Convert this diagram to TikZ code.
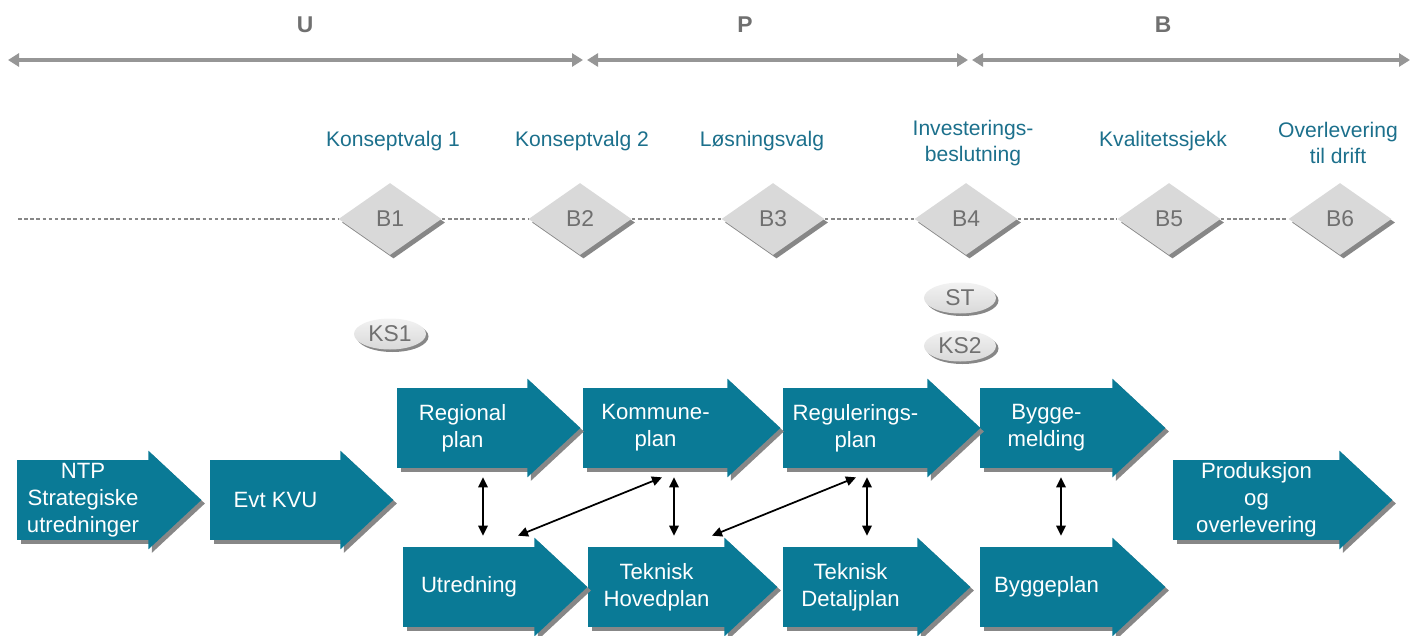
\documentclass[tikz,border=0pt]{standalone}
\usepackage{fontspec}
\setmainfont{Liberation Sans}
\usetikzlibrary{shapes.geometric, arrows.meta, positioning, calc, shadows}
\definecolor{flowTeal}{RGB}{10, 122, 150}
\definecolor{labelTeal}{RGB}{28, 112, 140}
\definecolor{gateGray}{RGB}{217, 217, 217}
\definecolor{shadowGray}{RGB}{135, 135, 135}
\definecolor{textGray}{RGB}{112, 112, 112}
\definecolor{phaseGray}{RGB}{150, 150, 150}

\begin{document}
\begin{tikzpicture}[
    flow/.style={
        rectangle,
        minimum height=1.6cm,
        inner sep=0pt,
        align=center,
        font=\fontsize{12.6}{15.3}\selectfont,
        text=white,
        fill=flowTeal,
        drop shadow={shadow xshift=0.07cm, shadow yshift=-0.07cm, fill=shadowGray, opacity=1}
    },
    head/.style={
        fill=flowTeal,
        drop shadow={shadow xshift=0.07cm, shadow yshift=-0.07cm, fill=shadowGray, opacity=1}
    },
    gate/.style={
        diamond,
        minimum width=2.06cm,
        minimum height=1.44cm,
        inner sep=0pt,
        font=\fontsize{13}{15}\selectfont,
        text=textGray,
        fill=gateGray,
        drop shadow={shadow xshift=0.07cm, shadow yshift=-0.07cm, fill=shadowGray, opacity=1}
    },
    review/.style={
        ellipse,
        minimum width=1.44cm,
        minimum height=0.62cm,
        inner sep=0pt,
        font=\fontsize{13}{15}\selectfont,
        text=textGray,
        top color=gray!10,
        bottom color=gray!30,
        drop shadow={shadow xshift=0.05cm, shadow yshift=-0.05cm, fill=shadowGray, opacity=1}
    },
    decision/.style={
        align=center,
        font=\fontsize{12}{14.7}\selectfont,
        text=labelTeal
    },
    phase/.style={
        font=\fontsize{13}{15}\selectfont\bfseries,
        text=textGray
    },
    span/.style={
        {Triangle[length=0.22cm, width=0.26cm]}-{Triangle[length=0.22cm, width=0.26cm]},
        line width=1.8pt,
        color=phaseGray
    },
    link/.style={
        {Triangle[length=0.2cm, width=0.19cm]}-{Triangle[length=0.2cm, width=0.19cm]},
        line width=1pt,
        color=black
    },
    timeline/.style={
        dash pattern=on 2pt off 1.5pt,
        line width=0.7pt,
        color=shadowGray
    }
]
\useasboundingbox (0,0) rectangle (28.38,-12.7);

% Phases
\node[phase] (pu) at (6.10,-0.50) {U};
\node[phase] (pp) at (14.90,-0.50) {P};
\node[phase] (pb) at (23.26,-0.50) {B};
\coordinate (t0) at (0.16,-1.2);
\coordinate (t1) at (11.70,-1.2);
\coordinate (t2) at (19.40,-1.2);
\coordinate (t3) at (28.20,-1.2);
\draw[span, shorten >=0.04cm] (t0) -- (t1);
\draw[span, shorten <=0.04cm, shorten >=0.04cm] (t1) -- (t2);
\draw[span, shorten <=0.04cm] (t2) -- (t3);

% Decision gates
\node[gate] (b1) at (7.80,-4.38) {B1};
\node[gate] (b2) at (11.60,-4.38) {B2};
\node[gate] (b3) at (15.46,-4.38) {B3};
\node[gate] (b4) at (19.32,-4.38) {B4};
\node[gate] (b5) at (23.38,-4.38) {B5};
\node[gate] (b6) at (26.80,-4.38) {B6};
\coordinate (tstart) at (0.36,-4.38);
\draw[timeline] (tstart) -- (b1) -- (b2) -- (b3) -- (b4) -- (b5) -- (b6);

\node[decision] (d1) at (7.86,-2.82) {Konseptvalg 1};
\node[decision] (d2) at (11.64,-2.82) {Konseptvalg 2};
\node[decision] (d3) at (15.24,-2.82) {Løsningsvalg};
\node[decision] (d4) at (19.46,-2.86) {Investerings-\\beslutning};
\node[decision] (d5) at (23.26,-2.82) {Kvalitetssjekk};
\node[decision] (d6) at (26.76,-2.86) {Overlevering\\til drift};

% Quality reviews
\node[review] (ks1) at (7.80,-6.68) {KS1};
\node[review] (st) at (19.20,-5.96) {ST};
\node[review] (ks2) at (19.20,-6.92) {KS2};

% Plan flow
\node[flow, minimum width=2.64cm] (ntp) at (1.66,-10.00) {NTP\\Strategiske\\utredninger};
\node[flow, minimum width=2.62cm] (kvu) at (5.51,-10.00) {Evt KVU};
\node[flow, minimum width=2.62cm] (reg) at (9.25,-8.56) {Regional\\plan};
\node[flow, minimum width=2.90cm] (kom) at (13.11,-8.56) {Kommune-\\plan};
\node[flow, minimum width=2.90cm] (regu) at (17.11,-8.56) {Regulerings-\\plan};
\node[flow, minimum width=2.66cm] (bmeld) at (20.93,-8.56) {Bygge-\\melding};
\node[flow, minimum width=2.64cm] (utr) at (9.38,-11.74) {Utredning};
\node[flow, minimum width=2.74cm] (hov) at (13.13,-11.74) {Teknisk\\Hovedplan};
\node[flow, minimum width=2.70cm] (det) at (17.01,-11.74) {Teknisk\\Detaljplan};
\node[flow, minimum width=2.66cm] (bplan) at (20.93,-11.74) {Byggeplan};
\node[flow, minimum width=3.34cm] (prod) at (25.13,-10.00) {Produksjon\\og\\overlevering};

\foreach \n in {ntp, kvu, reg, kom, regu, bmeld, utr, hov, det, bplan, prod}
    \fill[head] ($(\n.north east)+(-0.02,0.18)$) -- ($(\n.east)+(1.04,0)$)
        -- ($(\n.south east)+(-0.02,-0.18)$) -- cycle;

% Links
\draw[link] ($(reg.south)+(0.41,-0.18)$) -- ($(utr.north)+(0.28,0.22)$);
\draw[link] ($(kom.south)+(0.37,-0.18)$) -- ($(hov.north)+(0.35,0.22)$);
\draw[link] ($(regu.south)+(0.23,-0.18)$) -- ($(det.north)+(0.33,0.22)$);
\draw[link] ($(bmeld.south)+(0.29,-0.18)$) -- ($(bplan.north)+(0.29,0.22)$);
\draw[link] ($(utr.north)+(0.98,0.22)$) -- ($(kom.south)+(0.13,-0.18)$);
\draw[link] ($(hov.north)+(1.11,0.22)$) -- ($(regu.south)+(0.01,-0.18)$);

\end{tikzpicture}
\end{document}
